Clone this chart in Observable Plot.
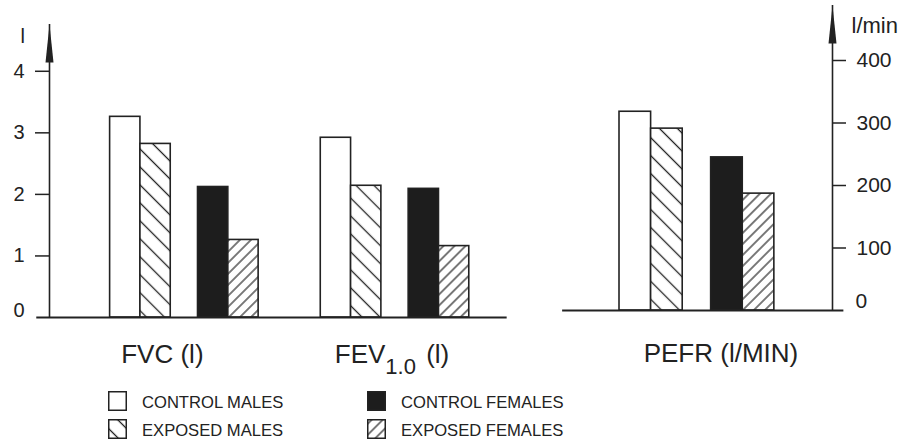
<!DOCTYPE html>
<html>
<head>
<meta charset="utf-8">
<script src="https://cdn.jsdelivr.net/npm/d3@7"></script>
<script src="https://cdn.jsdelivr.net/npm/@observablehq/plot@0.6"></script>
<style>
  body { margin: 0; background: #fff; }
  #wrap { position: relative; width: 911px; height: 444px; font-family: "Liberation Sans", Arial, Helvetica, sans-serif; color: #222; overflow: hidden; }
  #wrap > svg { position: absolute; top: 0; }
  #legend { position: absolute; left: 108px; top: 391px; display: grid; grid-template-columns: 259px 259px; grid-template-rows: 28px 28px; grid-auto-flow: column; font-size: 16.6px; }
  .item { display: flex; align-items: flex-start; height: 28px; }
  .item span { margin-left: 15px; line-height: 20px; position: relative; top: 1.5px; white-space: nowrap; }
</style>
</head>
<body>
<svg width="0" height="0" style="position:absolute">
  <defs>
    <pattern id="hatchBack" patternUnits="userSpaceOnUse" width="12.7" height="12.7" patternTransform="rotate(-45)">
      <rect width="12.7" height="12.7" fill="white"/>
      <line x1="6.35" y1="-1" x2="6.35" y2="14" stroke="#222" stroke-width="1.3"/>
    </pattern>
    <pattern id="hatchFwd" patternUnits="userSpaceOnUse" width="7.8" height="7.8" patternTransform="rotate(45)">
      <rect width="7.8" height="7.8" fill="white"/>
      <line x1="3.9" y1="-1" x2="3.9" y2="9" stroke="#222" stroke-width="1.2"/>
    </pattern>
  </defs>
</svg>
<div id="wrap"></div>
<script>
// ---- data ----
const categories = ["FVC (l)", "FEV1.0 (l)", "PEFR (l/MIN)"];
const seriesNames = ["CONTROL MALES", "EXPOSED MALES", "CONTROL FEMALES", "EXPOSED FEMALES"];
const controlMales   = [3.26, 2.92, 318];
const exposedMales   = [2.82, 2.14, 291];
const controlFemales = [2.12, 2.09, 245];
const exposedFemales = [1.26, 1.16, 187];
const leftTicks  = [0, 1, 2, 3, 4];
const rightTicks = [0, 100, 200, 300, 400];
const leftUnit = "l";
const rightUnit = "l/min";

// ---- styling / layout ----
const ink = "#222";
const font = "'Liberation Sans', Arial, Helvetica, sans-serif";
const fills = ["white", "url(#hatchBack)", "#1d1d1d", "url(#hatchFwd)"];
const seriesOffset = [0, 1, 2.9, 3.9];
const groupStart = [0, 6.95, 0];
const values = [controlMales, exposedMales, controlFemales, exposedFemales];
const rows = categories.flatMap((c, i) => values.map((v, j) => ({cat: i, series: j, value: v[i]})));

const arrowHead = { draw(ctx) { ctx.moveTo(0, 0); ctx.lineTo(4, 38); ctx.lineTo(-4, 38); ctx.closePath(); } };
const fmt = d => String(d);

function bars(data) {
  return seriesNames.map((s, j) => Plot.rect(data.filter(d => d.series === j), {
    x1: d => groupStart[d.cat] + seriesOffset[j],
    x2: d => groupStart[d.cat] + seriesOffset[j] + 1,
    y1: 0, y2: "value",
    fill: fills[j], stroke: ink, strokeWidth: 1.6
  }));
}

const styleObj = {background: "transparent", overflow: "visible", fontFamily: font, color: ink};

const lx = [-2, 14.2], ly = [0, 4.76];
const left = Plot.plot({
  width: 540, height: 380,
  marginLeft: 49, marginRight: 0, marginTop: 24, marginBottom: 63,
  x: {domain: lx, axis: null},
  y: {domain: ly, axis: null},
  style: styleObj,
  marks: [
    ...bars(rows.filter(d => d.cat < 2)),
    Plot.ruleY([0], {x1: -2.42, x2: 13.1, stroke: ink, strokeWidth: 2}),
    Plot.ruleX([lx[0]], {y1: 0, y2: ly[1], stroke: ink, strokeWidth: 1.6}),
    Plot.dot([0], {x: lx[0], y: ly[1], symbol: arrowHead, fill: ink, stroke: null, r: 3}),
    Plot.axisY(leftTicks.filter(t => t > 0), {anchor: "left", tickSize: 14, tickPadding: 11, fontSize: 20, tickFormat: fmt, color: ink, strokeWidth: 1.5, label: null}),
    Plot.axisY([0], {anchor: "left", tickSize: 0, tickPadding: 25, dy: -7, fontSize: 20, tickFormat: fmt, color: ink, label: null}),
    Plot.text([leftUnit], {frameAnchor: "top-left", text: d => d, dx: -29, dy: 18, lineAnchor: "bottom", fontSize: 20, fill: ink}),
    Plot.text([categories[0]], {x: groupStart[0] + 2.45, y: 0, text: d => d, dx: -22, dy: 45, lineAnchor: "bottom", fontSize: 26, fill: ink}),
    Plot.text([categories[1]], {x: groupStart[1] + 2.45, y: 0, text: d => d, dx: -3, dy: 45, lineAnchor: "bottom", fontSize: 26, fill: ink})
  ]
});

const rx = [-2.5, 6.74], ry = [0, 488];
const right = Plot.plot({
  width: 371, height: 380,
  marginLeft: 0, marginRight: 79, marginTop: 5, marginBottom: 70,
  x: {domain: rx, axis: null},
  y: {domain: ry, axis: null},
  style: styleObj,
  marks: [
    ...bars(rows.filter(d => d.cat === 2)),
    Plot.ruleY([0], {x1: -1.8, x2: 7.1, stroke: ink, strokeWidth: 2}),
    Plot.ruleX([rx[1]], {y1: 0, y2: ry[1], stroke: ink, strokeWidth: 1.6}),
    Plot.dot([0], {x: rx[1], y: ry[1], symbol: arrowHead, fill: ink, stroke: null, r: 3}),
    Plot.axisY(rightTicks.filter(t => t > 0), {anchor: "right", tickSize: 13, tickPadding: 11, fontSize: 21, tickFormat: fmt, color: ink, strokeWidth: 1.5, label: null}),
    Plot.axisY([0], {anchor: "right", tickSize: 0, tickPadding: 23, dy: -9, fontSize: 21, tickFormat: fmt, color: ink, label: null}),
    Plot.text([rightUnit], {frameAnchor: "top-right", text: d => d, textAnchor: "start", dx: 19, dy: 27, lineAnchor: "bottom", fontSize: 22, fill: ink}),
    Plot.text([categories[2]], {x: groupStart[2] + 2.45, y: 0, text: d => d, dx: 24, dy: 51, lineAnchor: "bottom", fontSize: 26, fill: ink})
  ]
});

// subscript in FEV label
left.querySelectorAll("text").forEach(t => {
  if (t.textContent === categories[1]) {
    const m = categories[1].match(/^(\D+)([\d.]+)(.*)$/);
    t.textContent = "";
    const ns = "http://www.w3.org/2000/svg";
    const a = document.createElementNS(ns, "tspan"); a.textContent = m[1];
    const b = document.createElementNS(ns, "tspan"); b.textContent = m[2];
    b.setAttribute("dy", "11"); b.setAttribute("font-size", "22");
    const c = document.createElementNS(ns, "tspan"); c.textContent = m[3];
    c.setAttribute("dy", "-11"); c.setAttribute("dx", "3");
    t.append(a, b, c);
  }
});

const wrap = document.getElementById("wrap");
left.style.left = "0px";
right.style.left = "540px";
wrap.append(left, right);

// legend
const legend = document.createElement("div");
legend.id = "legend";
seriesNames.forEach((name, j) => {
  const item = document.createElement("div");
  item.className = "item";
  item.innerHTML = `<svg width="19" height="20"><rect x="0.75" y="0.75" width="17.5" height="18.5" fill="${fills[j]}" stroke="${ink}" stroke-width="1.5"/></svg><span>${name}</span>`;
  legend.append(item);
});
wrap.append(legend);
</script>
</body>
</html>
